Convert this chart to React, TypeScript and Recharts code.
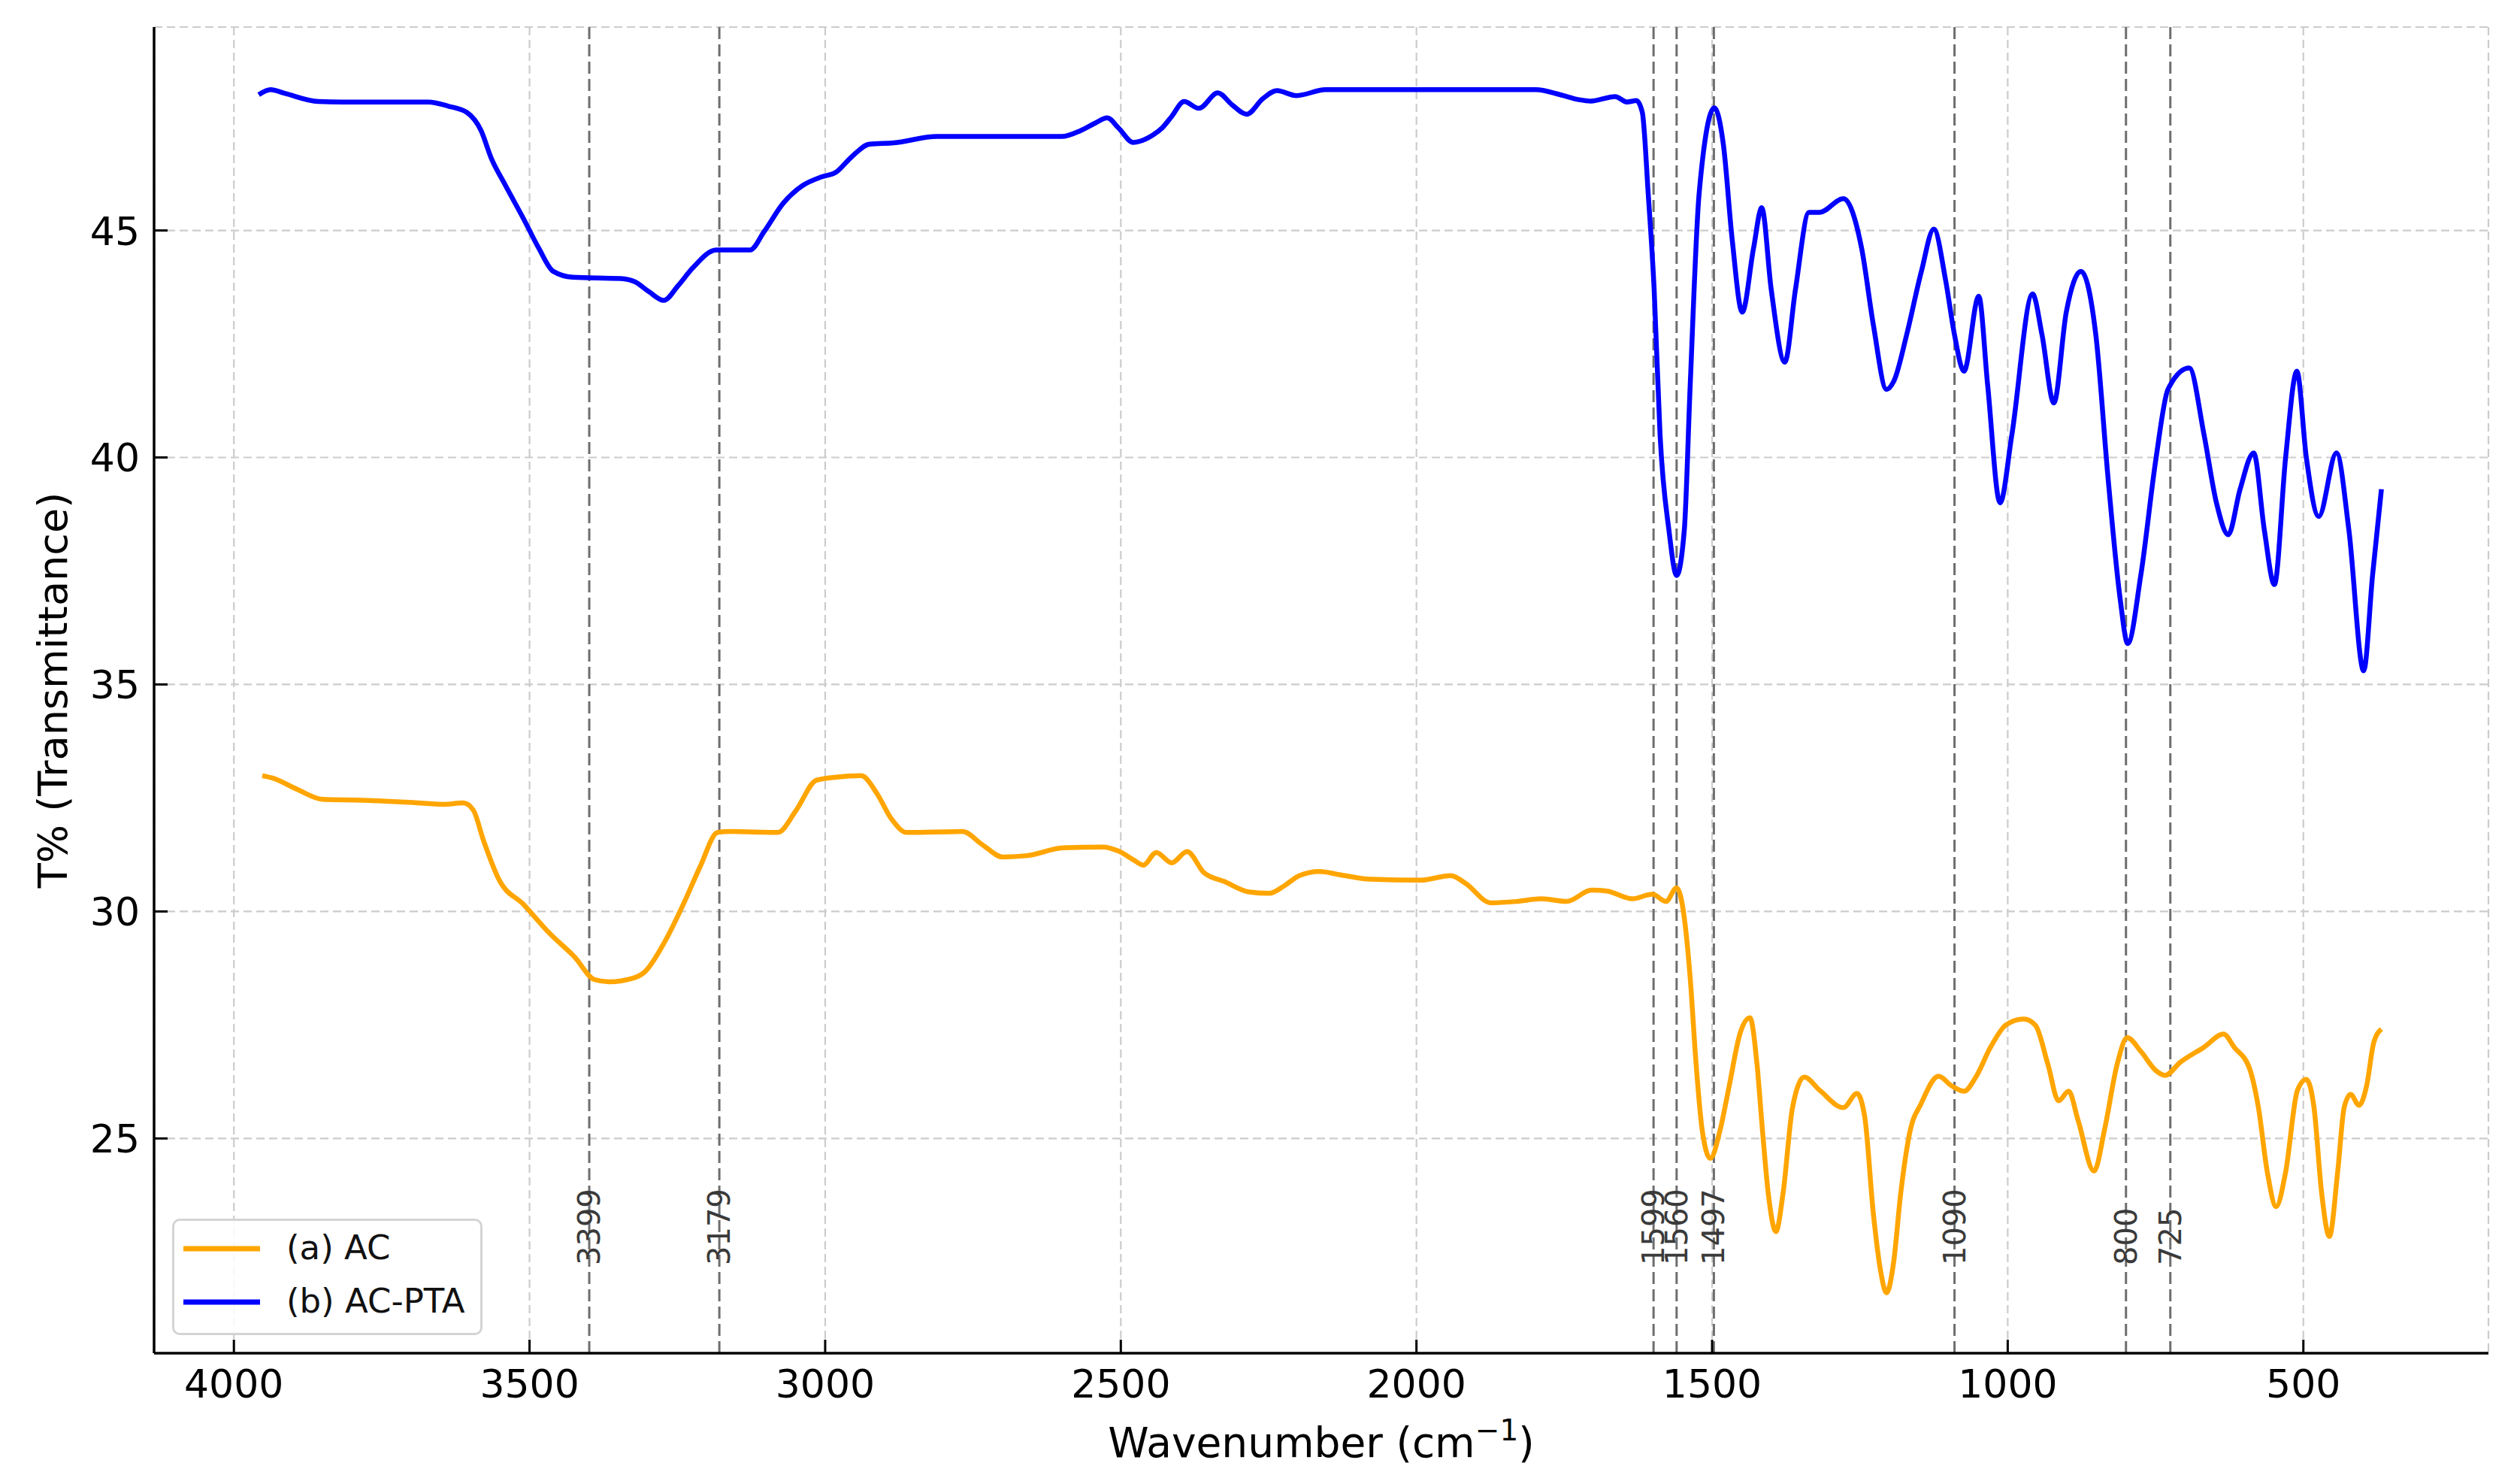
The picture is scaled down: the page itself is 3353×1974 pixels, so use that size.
import React from 'react';
import { LineChart, Line, XAxis, YAxis, CartesianGrid, ReferenceLine, Legend } from 'recharts';

const FONT = '"DejaVu Sans", "Liberation Sans", sans-serif';

// (a) AC
const acWavenumber = [
  3952, 3935, 3893, 3850, 3782, 3697, 3646, 3612, 3595, 3578, 3552, 3509, 3467, 3424, 3390, 3365,
  3325, 3305, 3271, 3237, 3211, 3182, 3160, 3080, 3049, 3015, 2981, 2939, 2913, 2888, 2862, 2768,
  2734, 2700, 2658, 2598, 2530, 2504, 2479, 2462, 2440, 2414, 2388, 2359, 2325, 2283, 2249, 2223,
  2198, 2164, 2130, 2078, 1993, 1942, 1917, 1874, 1831, 1789, 1746, 1704, 1678, 1635, 1601, 1578,
  1560, 1547, 1537, 1527, 1517, 1503, 1486, 1471, 1453, 1436, 1424, 1415, 1405, 1392, 1380, 1364,
  1344, 1318, 1278, 1255, 1242, 1227, 1215, 1205, 1193, 1181, 1166, 1146, 1117, 1095, 1074, 1054,
  1029, 1003, 973, 953, 932, 914, 897, 881, 854, 836, 815, 798, 775, 749, 734, 708,
  668, 635, 617, 591, 576, 561, 546, 530, 510, 495, 482, 469, 456, 442, 431, 420,
  406, 393, 381, 368,
];
const acTransmittance = [
  32.99, 32.94, 32.69, 32.47, 32.45, 32.4, 32.36, 32.39, 32.23, 31.57, 30.71, 30.14, 29.53, 29.0, 28.5, 28.45,
  28.53, 28.67, 29.34, 30.24, 31.0, 31.74, 31.76, 31.74, 32.23, 32.89, 32.96, 32.99, 32.61, 32.04, 31.74, 31.76,
  31.47, 31.2, 31.23, 31.4, 31.42, 31.33, 31.14, 31.02, 31.3, 31.07, 31.32, 30.85, 30.66, 30.43, 30.4, 30.57,
  30.79, 30.88, 30.81, 30.71, 30.69, 30.79, 30.62, 30.19, 30.22, 30.28, 30.22, 30.47, 30.45, 30.28, 30.38, 30.22,
  30.52, 29.86, 28.53, 26.63, 25.21, 24.56, 25.21, 26.16, 27.3, 27.66, 26.63, 25.21, 23.79, 22.95, 23.79, 25.68,
  26.35, 26.06, 25.68, 25.99, 25.49, 23.31, 22.08, 21.6, 22.27, 23.79, 25.11, 25.78, 26.37, 26.16, 26.04, 26.35,
  27.01, 27.5, 27.63, 27.49, 26.63, 25.83, 26.04, 25.4, 24.28, 25.21, 26.63, 27.22, 26.92, 26.49, 26.39, 26.68,
  27.01, 27.3, 27.01, 26.54, 25.68, 24.26, 23.5, 24.26, 26.06, 26.3, 25.68, 23.79, 22.84, 24.26, 25.68, 25.97,
  25.73, 26.16, 27.11, 27.41,
];

// (b) AC-PTA
const ptaWavenumber = [
  3958, 3938, 3914, 3857, 3817, 3671, 3638, 3606, 3582, 3565, 3541, 3509, 3484, 3460, 3427, 3346,
  3322, 3298, 3273, 3249, 3225, 3184, 3127, 3103, 3071, 3038, 3006, 2982, 2957, 2925, 2884, 2811,
  2600, 2568, 2544, 2523, 2504, 2479, 2446, 2430, 2414, 2393, 2368, 2336, 2312, 2287, 2260, 2236,
  2203, 2154, 1798, 1757, 1725, 1705, 1664, 1644, 1628, 1618, 1608, 1598, 1588, 1573, 1560, 1547,
  1537, 1522, 1496, 1481, 1466, 1449, 1430, 1416, 1400, 1377, 1359, 1336, 1318, 1278, 1247, 1227,
  1205, 1192, 1171, 1146, 1125, 1105, 1090, 1074, 1049, 1034, 1013, 993, 958, 942, 922, 901,
  876, 851, 830, 810, 797, 775, 749, 729, 693, 668, 647, 627, 607, 584, 566, 549,
  530, 511, 495, 474, 444, 423, 398, 383, 368,
];
const ptaTransmittance = [
  47.99, 48.1, 48.02, 47.84, 47.83, 47.83, 47.74, 47.6, 47.2, 46.6, 46.0, 45.23, 44.6, 44.1, 43.97, 43.94,
  43.87, 43.65, 43.46, 43.78, 44.16, 44.57, 44.57, 44.98, 45.6, 45.99, 46.18, 46.28, 46.6, 46.9, 46.93, 47.07,
  47.07, 47.2, 47.36, 47.48, 47.26, 46.94, 47.1, 47.26, 47.51, 47.84, 47.69, 48.03, 47.77, 47.56, 47.9, 48.08,
  47.97, 48.1, 48.1, 47.99, 47.88, 47.85, 47.95, 47.83, 47.86, 47.6, 45.8, 43.7, 40.5, 38.4, 37.4, 38.4,
  41.6, 45.8, 47.7, 46.9, 44.8, 43.2, 44.6, 45.5, 43.7, 42.1, 43.7, 45.4, 45.4, 45.7, 44.6, 42.9,
  41.5, 41.7, 42.7, 44.1, 45.03, 43.9, 42.7, 41.9, 43.55, 41.6, 39.0, 40.5, 43.6, 42.7, 41.2, 43.2,
  44.1, 42.7, 39.5, 36.9, 35.9, 37.4, 40.0, 41.5, 41.97, 40.5, 39.0, 38.3, 39.3, 40.1, 38.4, 37.2,
  40.0, 41.9, 40.0, 38.7, 40.1, 38.4, 35.3, 37.4, 39.3,
];

const peakPositions = [3399, 3179, 1599, 1560, 1497, 1090, 800, 725];
const xTicks = [4000, 3500, 3000, 2500, 2000, 1500, 1000, 500];
const yTicks = [25, 30, 35, 40, 45];
const seriesNames = ['(a) AC', '(b) AC-PTA'];
const seriesColors = ['#FFA500', '#0000FF'];
const xAxisTitleMain = 'Wavenumber (cm';
const xAxisTitleSup = '\u22121';
const xAxisTitleEnd = ')';
const yAxisTitle = 'T% (Transmittance)';

const acData = acWavenumber.map((wn, i) => ({ wn, t: acTransmittance[i] }));
const ptaData = ptaWavenumber.map((wn, i) => ({ wn, t: ptaTransmittance[i] }));

const XTick = (props: any) => {
  const { x, y, payload } = props;
  return (
    <g>
      <line x1={x} x2={x} y1={y} y2={y - 18} stroke="#000" strokeWidth={3} />
      <text x={x} y={y + 59} textAnchor="middle" fontSize={52} fontFamily={FONT} fill="#000">
        {payload.value}
      </text>
    </g>
  );
};

const YTick = (props: any) => {
  const { x, y, payload } = props;
  return (
    <g>
      <line x1={x} x2={x + 18} y1={y} y2={y} stroke="#000" strokeWidth={3} />
      <text x={x - 19} y={y + 19} textAnchor="end" fontSize={52} fontFamily={FONT} fill="#000">
        {payload.value}
      </text>
    </g>
  );
};

const XTitle = (props: any) => {
  const vb = props.viewBox || { x: 205, y: 1800, width: 3106, height: 174 };
  return (
    <text x={vb.x + vb.width / 2} y={vb.y + 138} textAnchor="middle" fontSize={55} fontFamily={FONT} fill="#000">
      {xAxisTitleMain}
      <tspan dy={-22} fontSize={39}>{xAxisTitleSup}</tspan>
      <tspan dy={22}>{xAxisTitleEnd}</tspan>
    </text>
  );
};

const YTitle = (props: any) => {
  const vb = props.viewBox || { x: 0, y: 36, width: 205, height: 1764 };
  const cx = 70;
  const cy = vb.y + vb.height / 2;
  return (
    <text
      x={cx}
      y={cy}
      transform={`rotate(-90, ${cx}, ${cy})`}
      textAnchor="middle"
      dominantBaseline="central"
      fontSize={54}
      fontFamily={FONT}
      fill="#000"
    >
      {yAxisTitle}
    </text>
  );
};

const makePeakLabel = (value: number) => (props: any) => {
  const vb = props.viewBox || {};
  const x = vb.x ?? 0;
  const yb = (vb.y ?? 0) + (vb.height ?? 0) - 117;
  return (
    <text
      x={x}
      y={yb}
      transform={`rotate(-90, ${x}, ${yb})`}
      textAnchor="start"
      dominantBaseline="central"
      fontSize={40}
      fontFamily={FONT}
      fill="#3a3a3a"
    >
      {String(value)}
    </text>
  );
};

const LegendBox = () => (
  <div
    style={{
      position: 'relative',
      width: 413,
      height: 155,
      boxSizing: 'border-box',
      border: '3px solid #d4d4d4',
      borderRadius: 10,
      background: 'rgba(255,255,255,0.85)',
      fontFamily: FONT,
    }}
  >
    {seriesNames.map((name, i) => (
      <div key={name} style={{ position: 'absolute', left: 0, top: i === 0 ? 40 - 3 : 111 - 3, width: 413, height: 0 }}>
        <svg width={120} height={20} style={{ position: 'absolute', left: 10, top: -10 }}>
          <line x1={2} x2={104} y1={10} y2={10} stroke={seriesColors[i]} strokeWidth={7} />
        </svg>
        <span
          style={{
            position: 'absolute',
            left: 149,
            top: -29,
            fontSize: 45,
            lineHeight: '56px',
            whiteSpace: 'nowrap',
            color: '#111',
          }}
        >
          {name}
        </span>
      </div>
    ))}
  </div>
);

export default function App() {
  return (
    <div style={{ position: 'absolute', left: 0, top: 0, width: 3353, height: 1974, background: '#fff' }}>
      <LineChart width={3353} height={1974} margin={{ top: 36, right: 42, left: 0, bottom: 0 }}>
        <CartesianGrid stroke="#cccccc" strokeWidth={2.2} strokeDasharray="11 6" />
        <XAxis
          type="number"
          dataKey="wn"
          domain={[187, 4135]}
          reversed
          allowDataOverflow
          ticks={xTicks}
          interval={0}
          height={174}
          tickSize={0}
          tickMargin={0}
          tickLine={false}
          tick={XTick}
          axisLine={{ stroke: '#000', strokeWidth: 3.5 }}
          label={XTitle}
        />
        <YAxis
          type="number"
          domain={[20.27, 49.48]}
          allowDataOverflow
          ticks={yTicks}
          interval={0}
          width={205}
          tickSize={0}
          tickMargin={0}
          tickLine={false}
          tick={YTick}
          axisLine={{ stroke: '#000', strokeWidth: 3.5 }}
          label={YTitle}
        />
        {peakPositions.map((p) => (
          <ReferenceLine
            key={p}
            x={p}
            stroke="#6e6e6e"
            strokeWidth={3}
            strokeDasharray="16 7"
            label={makePeakLabel(p)}
          />
        ))}
        <Line
          data={acData}
          dataKey="t"
          name={seriesNames[0]}
          type="monotone"
          stroke={seriesColors[0]}
          strokeWidth={6.5}
          dot={false}
          activeDot={false}
          isAnimationActive={false}
        />
        <Line
          data={ptaData}
          dataKey="t"
          name={seriesNames[1]}
          type="monotone"
          stroke={seriesColors[1]}
          strokeWidth={6.5}
          dot={false}
          activeDot={false}
          isAnimationActive={false}
        />
        <Legend
          layout="vertical"
          align="center"
          verticalAlign="middle"
          wrapperStyle={{ position: 'absolute', left: 229, top: 1621, width: 413, height: 155 }}
          content={() => <LegendBox />}
        />
      </LineChart>
    </div>
  );
}
